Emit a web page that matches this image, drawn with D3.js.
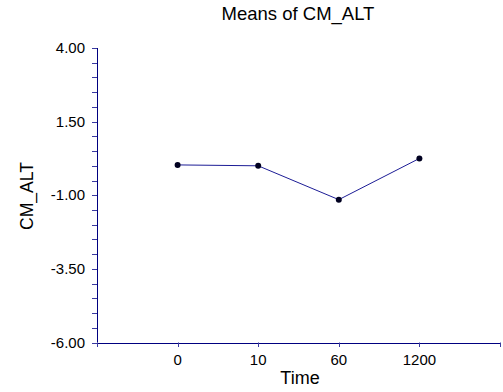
<!DOCTYPE html>
<html><head><meta charset="utf-8">
<script src="https://cdn.jsdelivr.net/npm/d3@7"></script>
<style>body{margin:0;background:#fff}svg{display:block}text{font-family:"Liberation Sans",Arial,sans-serif;fill:#000}</style>
</head><body><svg id="c" width="503" height="392"></svg>
<script>
const categories = ["0", "10", "60", "1200"];
const means = [0.03, 0.0, -1.15, 0.25];
const yTicks = [4.00, 1.50, -1.00, -3.50, -6.00];
const title = "Means of CM_ALT";
const xLabel = "Time";
const yLabel = "CM_ALT";

const svg = d3.select("#c");
const mLeft = 97, mRight = 500, mTop = 48, mBottom = 342.5;
const navy = "#000080";

const x = d3.scaleLinear().domain([0, categories.length + 1]).range([mLeft, mRight]);
const y = d3.scaleLinear().domain([-6, 4]).range([mBottom, mTop]);

// y axis
const minor = d3.range(-6, 4.001, 0.5);
svg.append("g").selectAll("line").data(minor).join("line")
  .attr("x1", mLeft - 5).attr("x2", mLeft)
  .attr("y1", d => Math.round(y(d)) + 0.5).attr("y2", d => Math.round(y(d)) + 0.5)
  .attr("stroke", "#3a3aa0").attr("stroke-width", 1);
svg.append("line").attr("x1", mLeft + 0.5).attr("x2", mLeft + 0.5)
  .attr("y1", y(4)).attr("y2", y(-6)).attr("stroke", navy);
svg.append("g").selectAll("text").data(yTicks).join("text")
  .attr("x", 85).attr("y", d => y(d) + 5)
  .attr("text-anchor", "end").attr("font-size", 15)
  .text(d => d.toFixed(2));

// x axis
svg.append("line").attr("x1", mLeft).attr("x2", mRight)
  .attr("y1", Math.round(mBottom) + 0.5).attr("y2", Math.round(mBottom) + 0.5).attr("stroke", navy);
svg.append("g").selectAll("line").data(d3.range(0, categories.length + 2)).join("line")
  .attr("x1", d => Math.round(x(d)) + 0.5).attr("x2", d => Math.round(x(d)) + 0.5)
  .attr("y1", mBottom).attr("y2", mBottom + 4.5)
  .attr("stroke", "#3a3aa0");
svg.append("g").selectAll("text").data(categories).join("text")
  .attr("x", (d, i) => x(i + 1)).attr("y", 365)
  .attr("text-anchor", "middle").attr("font-size", 15)
  .text(d => d);

// line and points
const line = d3.line().x((d, i) => x(i + 1)).y(d => y(d));
svg.append("path").datum(means).attr("d", line)
  .attr("fill", "none").attr("stroke", "#1c1c96").attr("stroke-width", 1);
svg.append("g").selectAll("circle").data(means).join("circle")
  .attr("cx", (d, i) => x(i + 1)).attr("cy", d => y(d)).attr("r", 3)
  .attr("fill", "#000020");

// labels
svg.append("text").attr("x", 298).attr("y", 20).attr("text-anchor", "middle")
  .attr("font-size", 18.5).text(title);
svg.append("text").attr("x", 300).attr("y", 384).attr("text-anchor", "middle")
  .attr("font-size", 18).text(xLabel);
svg.append("text").attr("transform", "translate(33,196) rotate(-90)")
  .attr("text-anchor", "middle").attr("font-size", 17.5).text(yLabel);
</script></body></html>
